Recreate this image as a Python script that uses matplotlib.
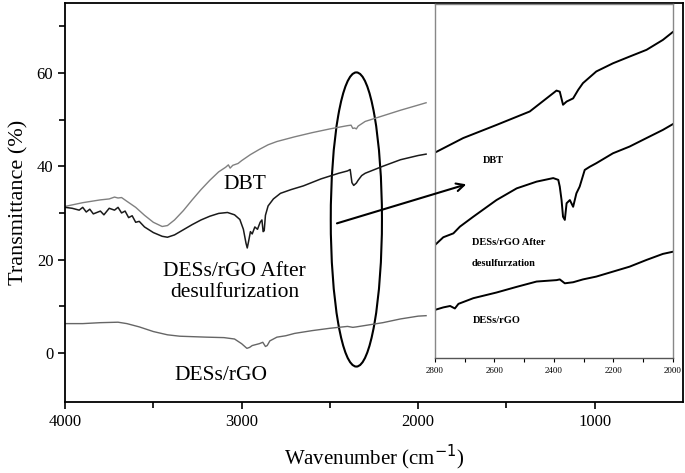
import numpy as np
import matplotlib
matplotlib.use("Agg")
import matplotlib.pyplot as plt
from matplotlib.patches import Ellipse

plt.rcParams['font.family'] = ['Liberation Serif', 'DejaVu Serif']

# main spectra (wavenumber, transmittance %)
dbt_wn = [4000, 3950, 3900, 3850, 3800, 3750, 3720, 3700, 3680, 3650, 3600, 3550, 3500, 3450,
          3420, 3380, 3330, 3280, 3230, 3180, 3130, 3090, 3075, 3065, 3050, 3020, 3000, 2950,
          2900, 2850, 2800, 2700, 2600, 2500, 2400, 2380, 2370, 2360, 2350, 2340, 2300, 2200,
          2100, 2000, 1955]
dbt_t = [31.4, 31.8, 32.2, 32.5, 32.8, 33.0, 33.4, 33.2, 33.3, 32.5, 31.2, 29.5, 28.0, 27.1,
         27.3, 28.5, 30.5, 32.8, 35.0, 37.0, 38.8, 39.8, 40.3, 39.6, 40.2, 40.6, 41.2, 42.5,
         43.6, 44.6, 45.3, 46.3, 47.2, 48.0, 48.7, 48.8, 48.1, 48.2, 48.0, 48.6, 49.6, 50.8,
         52.0, 53.1, 53.6]

after_wn = [4000, 3960, 3920, 3900, 3880, 3860, 3840, 3800, 3780, 3750, 3720, 3700, 3680, 3660,
            3640, 3620, 3600, 3580, 3550, 3500, 3450, 3420, 3380, 3330, 3280, 3230, 3180, 3130,
            3080, 3040, 3010, 2990, 2975, 2968, 2960, 2950, 2940, 2925, 2910, 2895, 2885, 2878,
            2872, 2865, 2850, 2820, 2780, 2720, 2650, 2550, 2450, 2400, 2385, 2375, 2365, 2350,
            2340, 2320, 2300, 2200, 2100, 2000, 1955]
after_t = [31.2, 31.0, 30.6, 31.2, 30.2, 30.8, 29.8, 30.4, 29.6, 31.0, 30.6, 31.2, 30.0, 30.4,
           29.0, 29.4, 28.0, 28.2, 27.0, 25.8, 25.0, 24.8, 25.3, 26.4, 27.5, 28.5, 29.3, 29.9,
           30.1, 29.6, 28.6, 26.5, 23.5, 22.5, 24.0, 26.0, 25.5, 27.0, 26.5, 28.0, 28.5, 26.0,
           26.2, 29.5, 31.5, 33.0, 34.2, 35.0, 35.8, 37.3, 38.5, 39.0, 39.3, 36.5, 35.9, 36.4,
           37.0, 38.0, 38.5, 40.0, 41.4, 42.3, 42.6]

des_wn = [4000, 3900, 3800, 3700, 3650, 3580, 3500, 3420, 3350, 3200, 3100, 3040, 3000, 2970,
          2955, 2940, 2900, 2880, 2865, 2855, 2840, 2800, 2750, 2700, 2600, 2500, 2400, 2370,
          2350, 2300, 2200, 2100, 2000, 1955]
des_t = [6.3, 6.3, 6.5, 6.6, 6.3, 5.6, 4.6, 3.9, 3.6, 3.4, 3.3, 3.0, 2.0, 1.0,
         1.2, 1.6, 2.0, 2.3, 1.4, 1.6, 2.6, 3.4, 3.7, 4.2, 4.8, 5.3, 5.7, 5.5,
         5.6, 5.9, 6.5, 7.3, 7.9, 8.0]

# inset (2800-2000 cm-1, arbitrary units)
in_dbt_wn = [2800, 2705, 2593, 2481, 2391, 2380, 2369, 2357, 2335, 2318, 2302, 2257, 2201, 2145,
             2088, 2033, 2000]
in_dbt_t = [58.0, 62.1, 65.8, 69.6, 75.5, 75.2, 71.5, 72.4, 73.3, 75.7, 77.6, 80.9, 83.2, 85.1,
            87.0, 89.8, 92.0]

in_after_wn = [2800, 2772, 2738, 2716, 2671, 2593, 2525, 2458, 2402, 2385, 2380, 2374, 2369, 2363,
               2357, 2346, 2335, 2324, 2313, 2296, 2279, 2257, 2201, 2145, 2088, 2033, 2000]
in_after_t = [31.9, 34.1, 35.2, 37.1, 39.9, 44.6, 47.9, 49.8, 50.8, 50.3, 48.4, 44.6, 39.9, 39.0,
              43.7, 44.6, 42.7, 46.5, 48.4, 53.1, 54.0, 55.0, 57.8, 59.7, 62.1, 64.4, 66.0]

in_des_wn = [2800, 2772, 2749, 2733, 2721, 2671, 2593, 2525, 2458, 2391, 2380, 2363, 2335, 2302,
             2257, 2201, 2145, 2088, 2033, 2000]
in_des_t = [13.6, 14.3, 14.7, 14.0, 15.3, 16.9, 18.5, 20.1, 21.6, 22.0, 22.2, 21.1, 21.4, 22.2,
            23.0, 24.4, 25.8, 27.7, 29.4, 30.0]

fig = plt.figure(figsize=(6.85, 4.73), dpi=100)
ax = fig.add_axes([0.095, 0.150, 0.902, 0.844])

ax.plot(dbt_wn, dbt_t, color='#808080', lw=1.0)
ax.plot(after_wn, after_t, color='#1a1a1a', lw=1.1)
ax.plot(des_wn, des_t, color='#666666', lw=1.0)

ax.set_xlim(4000, 500)
ax.set_ylim(-10.5, 75)
ax.set_xticks([4000, 3000, 2000, 1000])
ax.set_xticks([3500, 2500, 1500], minor=True)
ax.set_yticks([0, 20, 40, 60])
ax.set_yticks([10, 30, 50, 70], minor=True)
ax.tick_params(axis='both', which='major', length=5, width=1.2, labelsize=12, direction='out')
ax.tick_params(axis='both', which='minor', length=4, width=1.2, direction='out')
for s in ax.spines.values():
    s.set_linewidth(1.3)

ax.set_xlabel('Wavenumber (cm$^{-1}$)', fontsize=15, labelpad=9)
ax.set_ylabel('Transmittance (%)', fontsize=16, labelpad=6)

ax.text(2983, 36.1, 'DBT', fontsize=15.5, ha='center', va='center')
ax.text(3040, 15.2, 'DESs/rGO After\ndesulfurization', fontsize=15.5, ha='center',
        va='center', linespacing=1.1)
ax.text(3119, -4.9, 'DESs/rGO', fontsize=15.5, ha='center', va='center')

ax.add_patch(Ellipse((2350, 28.6), 290, 63, fill=False, ec='black', lw=1.5))

# inset
ax_in = fig.add_axes([0.635, 0.243, 0.347, 0.749])
ax_in.plot(in_dbt_wn, in_dbt_t, color='black', lw=1.4)
ax_in.plot(in_after_wn, in_after_t, color='black', lw=1.4)
ax_in.plot(in_des_wn, in_des_t, color='black', lw=1.4)
ax_in.set_xlim(2800, 2000)
ax_in.set_ylim(0, 100)
ax_in.set_yticks([])
ax_in.set_xticks([2800, 2600, 2400, 2200, 2000])
ax_in.set_xticks([2700, 2500, 2300, 2100], minor=True)
ax_in.tick_params(axis='x', which='both', length=3, width=0.8, labelsize=6.5, direction='out')
for s in ax_in.spines.values():
    s.set_color('#888888')
    s.set_linewidth(1.0)
ax_in.spines['bottom'].set_color('#555555')

lab = dict(fontsize=7.5, fontweight='bold', ha='left', va='center')
ax_in.text(2639, 55.9, 'DBT', **lab)
ax_in.text(2676, 32.5, 'DESs/rGO After', **lab)
ax_in.text(2676, 26.8, 'desulfurzation', **lab)
ax_in.text(2673, 10.5, 'DESs/rGO', **lab)

ax_in.annotate('', xy=(1712, 36.3), xycoords=ax.transData,
               xytext=(2475, 27.6), textcoords=ax.transData,
               arrowprops=dict(arrowstyle='->', color='black', lw=1.5, mutation_scale=14),
               annotation_clip=False)

fig.savefig('out.png', dpi=100)
